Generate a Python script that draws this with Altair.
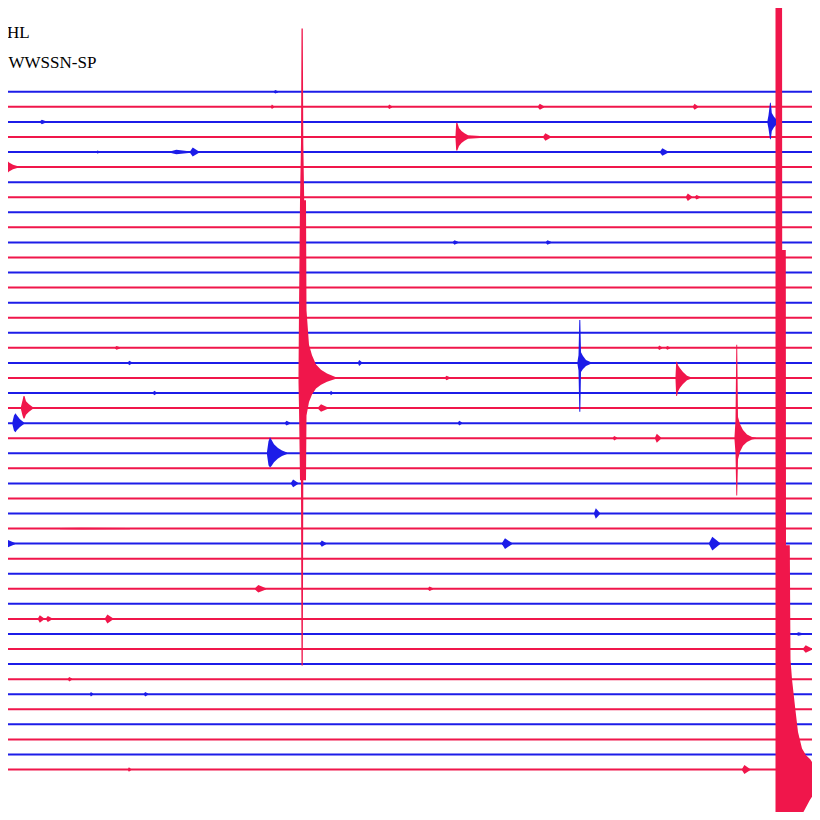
import altair as alt
import pandas as pd

# ---------------- data ----------------
N_TRACES = 46
TRACE_KIND = ["blue" if i % 2 == 0 else "red" for i in range(N_TRACES)]

# events: trace index, time points, upward / downward envelope (in trace spacings)
EV_A_TRACE = 19
EV_A_T = [298.5, 299.0, 300.0, 301.0, 301.5, 302.8, 303.3, 304.2, 306.0, 306.5, 309.0, 312.0, 316.0, 321.0, 327.0, 336.0]
EV_A_UP = [0.3, 4.5, 11.8, 15.6, 23.2, 23.2, 15.6, 11.8, 11.8, 4.5, 2.2, 1.5, 0.9, 0.55, 0.3, 0.05]
EV_A_DN = [0.3, 2.0, 6.8, 6.8, 19.1, 19.1, 6.8, 6.8, 6.8, 2.5, 1.6, 1.1, 0.7, 0.45, 0.25, 0.05]

EV_B_TRACE = 45
EV_B_T = [775.5, 782.0, 782.2, 785.8, 786.0, 789.8, 790.5, 792.0, 795.0, 798.0, 802.0, 806.0, 810.0, 812.0]
EV_B_UP = [60.0, 60.0, 34.5, 34.5, 14.9, 14.9, 7.3, 6.0, 4.2, 2.5, 1.4, 0.95, 0.7, 0.5]
EV_B_DN = [6.0, 6.0, 6.0, 6.0, 6.0, 6.0, 6.0, 5.0, 4.2, 3.6, 3.0, 2.5, 2.0, 1.8]

EV_C_TRACE = 18
EV_C_T = [577.5, 578.5, 579.3, 580.3, 581.0, 583.0, 586.0, 591.0]
EV_C_UP = [0.1, 0.5, 2.85, 2.85, 0.7, 0.45, 0.2, 0.05]
EV_C_DN = [0.1, 0.5, 3.24, 3.24, 0.6, 0.4, 0.2, 0.05]

EV_D_TRACE = 19
EV_D_T = [675.5, 676.2, 677.0, 678.0, 680.0, 683.0, 687.0, 691.0]
EV_D_UP = [0.1, 1.08, 1.08, 0.85, 0.65, 0.4, 0.15, 0.05]
EV_D_DN = [0.1, 1.2, 1.2, 0.9, 0.65, 0.4, 0.15, 0.05]

EV_E_TRACE = 23
EV_E_T = [734.5, 735.5, 736.3, 737.2, 738.0, 740.0, 743.0, 747.0, 752.0, 756.0]
EV_E_UP = [0.1, 1.2, 6.2, 6.2, 1.4, 0.95, 0.55, 0.25, 0.08, 0.03]
EV_E_DN = [0.1, 1.0, 3.8, 3.8, 1.4, 0.9, 0.5, 0.25, 0.08, 0.03]

EV_F_TRACE = 3
EV_F_T = [455.5, 456.2, 457.3, 459.0, 461.5, 464.5, 468.0, 480.0]
EV_F_UP = [0.1, 0.95, 0.95, 0.6, 0.4, 0.25, 0.12, 0.06]
EV_F_DN = [0.1, 0.9, 0.9, 0.6, 0.4, 0.25, 0.12, 0.06]

EV_G_TRACE = 2
EV_G_T = [767.5, 768.5, 770.0, 770.8, 771.8, 774.0, 776.0]
EV_G_UP = [0.1, 0.45, 1.27, 1.27, 0.6, 0.35, 0.2]
EV_G_DN = [0.1, 0.45, 1.15, 1.15, 0.6, 0.35, 0.2]

EV_H_TRACE = 24
EV_H_T = [267.0, 268.5, 270.0, 271.5, 274.0, 278.0, 282.0, 287.0]
EV_H_UP = [0.1, 0.8, 1.07, 0.9, 0.6, 0.35, 0.18, 0.05]
EV_H_DN = [0.1, 0.8, 0.95, 0.85, 0.6, 0.35, 0.18, 0.05]

EV_I_TRACE = 5
EV_I_T = [0.0, 3.0, 6.0, 9.0, 13.0, 18.0]
EV_I_UP = [0.85, 0.75, 0.5, 0.3, 0.15, 0.05]
EV_I_DN = [0.85, 0.75, 0.5, 0.3, 0.15, 0.05]

EV_J_TRACE = 21
EV_J_T = [21.0, 22.5, 23.5, 24.5, 26.0, 29.0, 33.0]
EV_J_UP = [0.1, 0.5, 0.8, 0.8, 0.45, 0.25, 0.05]
EV_J_DN = [0.1, 0.5, 0.7, 0.7, 0.45, 0.25, 0.05]

EV_K_TRACE = 22
EV_K_T = [12.5, 14.0, 15.5, 17.0, 20.0, 24.0]
EV_K_UP = [0.1, 0.5, 0.65, 0.5, 0.25, 0.05]
EV_K_DN = [0.1, 0.5, 0.6, 0.45, 0.25, 0.05]

# small blips: trace, start, end, half amplitude
BLIP_TRACE = [0, 1, 1, 1, 1, 2, 3, 4, 4, 4, 4, 7, 7, 10, 10, 17, 17, 17, 18, 18, 19,
              20, 20, 21, 22, 22, 23, 23, 26, 28, 29, 30, 30, 30, 30, 33, 33, 35, 35,
              35, 36, 37, 39, 40, 40, 40, 45, 45]
BLIP_T0 = [274, 271, 388, 538, 693, 40, 543, 170, 190, 660, 97, 686, 695, 453, 546, 115, 658,
           666, 128, 358, 445, 153, 330, 318, 285, 458, 613, 655, 291, 594, 60, 0, 320, 502,
           709, 255, 428, 38, 46, 105, 796, 803, 68, 0, 90, 144, 128, 742]
BLIP_T1 = [278, 274, 392, 544, 698, 46, 551, 191, 199, 668, 99, 692, 700, 458, 551, 120, 662,
           670, 132, 362, 450, 157, 333, 328, 290, 462, 617, 661, 298, 600, 130, 15, 326, 512,
           720, 266, 433, 44, 52, 113, 804, 812, 72, 6, 93, 148, 131, 750]
BLIP_AMP = [0.12, 0.15, 0.15, 0.2, 0.2, 0.15, 0.25, 0.15, 0.3, 0.25, 0.12, 0.25, 0.15, 0.15, 0.15,
            0.12, 0.15, 0.12, 0.15, 0.2, 0.15, 0.15, 0.15, 0.25, 0.15, 0.15, 0.15, 0.3, 0.25, 0.35,
            0.06, 0.35, 0.2, 0.35, 0.45, 0.25, 0.15, 0.25, 0.2, 0.3, 0.12, 0.25, 0.15, 0.3, 0.15,
            0.15, 0.15, 0.3]

LABEL_STATION = "HL"
LABEL_INSTRUMENT = "WWSSN-SP"

RED = "#F0164B"
BLUE = "#1C1CE8"

# ---------------- tables ----------------
lines_df = pd.DataFrame({"trace": list(range(N_TRACES)), "kind": TRACE_KIND})

events = [
    ("A", EV_A_TRACE, EV_A_T, EV_A_UP, EV_A_DN),
    ("B", EV_B_TRACE, EV_B_T, EV_B_UP, EV_B_DN),
    ("C", EV_C_TRACE, EV_C_T, EV_C_UP, EV_C_DN),
    ("D", EV_D_TRACE, EV_D_T, EV_D_UP, EV_D_DN),
    ("E", EV_E_TRACE, EV_E_T, EV_E_UP, EV_E_DN),
    ("F", EV_F_TRACE, EV_F_T, EV_F_UP, EV_F_DN),
    ("G", EV_G_TRACE, EV_G_T, EV_G_UP, EV_G_DN),
    ("H", EV_H_TRACE, EV_H_T, EV_H_UP, EV_H_DN),
    ("I", EV_I_TRACE, EV_I_T, EV_I_UP, EV_I_DN),
    ("J", EV_J_TRACE, EV_J_T, EV_J_UP, EV_J_DN),
    ("K", EV_K_TRACE, EV_K_T, EV_K_UP, EV_K_DN),
]
rows = []
for name, tr, ts, ups, dns in events:
    for t, u, d in zip(ts, ups, dns):
        rows.append({"ev": name, "t": t, "top": tr - u, "bottom": tr + d,
                     "kind": TRACE_KIND[tr]})
# blips drawn as small spindles: onset, peak, end
for k, (tr, t0, t1, a) in enumerate(zip(BLIP_TRACE, BLIP_T0, BLIP_T1, BLIP_AMP)):
    tp = t0 + 0.3 * (t1 - t0)
    for t, amp in ((t0, 0.04), (tp, a), (t1, 0.04)):
        rows.append({"ev": f"b{k}", "t": t, "top": tr - amp, "bottom": tr + amp,
                     "kind": TRACE_KIND[tr]})
ev_df = pd.DataFrame(rows)

# ---------------- scales ----------------
xscale = alt.Scale(domain=[8, 812], nice=False, zero=False)
yscale = alt.Scale(domain=[-5.564, 47.82], reverse=True, nice=False, zero=False)
cscale = alt.Scale(domain=["blue", "red"], range=[BLUE, RED])

base_lines = alt.Chart(lines_df).mark_rule(strokeWidth=2.0).encode(
    y=alt.Y("trace:Q", scale=yscale, axis=None),
    color=alt.Color("kind:N", scale=cscale, legend=None),
)

ev_layer = alt.Chart(ev_df).mark_area(interpolate="linear", clip=True).encode(
    x=alt.X("t:Q", scale=xscale, axis=None),
    y=alt.Y("top:Q", scale=yscale, axis=None),
    y2="bottom:Q",
    detail="ev:N",
    color=alt.Color("kind:N", scale=cscale, legend=None),
)

txt1 = alt.Chart(pd.DataFrame({"s": [LABEL_STATION]})).mark_text(
    font="Liberation Serif", fontSize=17, align="left", baseline="alphabetic", color="black"
).encode(x=alt.value(-1), y=alt.value(29.7), text="s:N")

txt2 = alt.Chart(pd.DataFrame({"s": [LABEL_INSTRUMENT]})).mark_text(
    font="Liberation Serif", fontSize=17, align="left", baseline="alphabetic", color="black"
).encode(x=alt.value(0.5), y=alt.value(60.3), text="s:N")

chart = alt.layer(base_lines, ev_layer, txt1, txt2).properties(
    width=804, height=804, padding=0, background="white",
    autosize=alt.AutoSizeParams(type="none"),
).configure_view(stroke=None)

chart.save("out.html", embed_options={"renderer": "svg", "actions": False})
